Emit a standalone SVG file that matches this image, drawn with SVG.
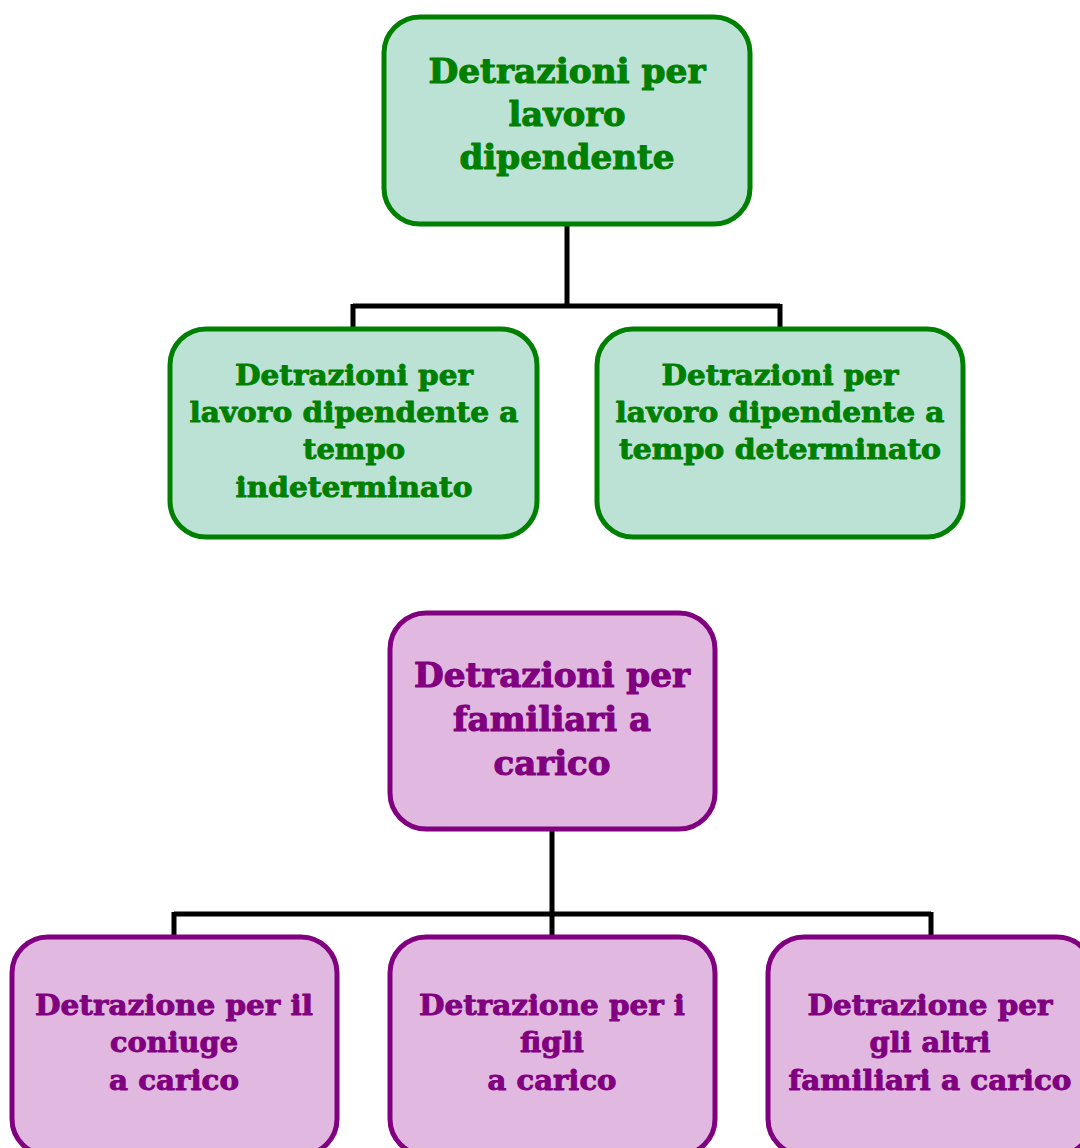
<svg xmlns="http://www.w3.org/2000/svg" width="1080" height="1148" viewBox="0 0 1080 1148">
<style>
.g rect{fill:#bce2d6;stroke:#008000;stroke-width:5}
.p rect{fill:#e1b8df;stroke:#800080;stroke-width:5}
text{font-family:"DejaVu Serif","Liberation Serif",serif;font-weight:bold;text-anchor:middle;stroke-linejoin:round}
.g text{fill:#008000;stroke:#008000}
.p text{fill:#800080;stroke:#800080}
.big{font-size:33px;stroke-width:1.1px}
.sm{font-size:27px;stroke-width:0.9px}
#connectors path{fill:none;stroke:#000;stroke-width:5}
</style>
<rect width="1080" height="1148" fill="#fff"/>
<g id="connectors">
<path d="M567,224 V306 M353,306 H780 M353,304 V329 M780,304 V329"/>
<path d="M552,829 V914 M174,914 H931 M174,912 V937 M552,912 V937 M931,912 V937"/>
</g>
<g id="n1" class="g">
<rect x="384" y="17" width="366" height="207" rx="36"/>
<text class="big" x="567" y="83" textLength="277" lengthAdjust="spacingAndGlyphs">Detrazioni per</text>
<text class="big" x="567" y="126" textLength="117" lengthAdjust="spacingAndGlyphs">lavoro</text>
<text class="big" x="567" y="169" textLength="215" lengthAdjust="spacingAndGlyphs">dipendente</text>
</g>
<g id="n2" class="g">
<rect x="170" y="329" width="367" height="208" rx="36"/>
<text class="sm" x="354" y="385" textLength="238" lengthAdjust="spacingAndGlyphs">Detrazioni per</text>
<text class="sm" x="354" y="422" textLength="329" lengthAdjust="spacingAndGlyphs">lavoro dipendente a</text>
<text class="sm" x="354" y="459" textLength="102" lengthAdjust="spacingAndGlyphs">tempo</text>
<text class="sm" x="354" y="497" textLength="237" lengthAdjust="spacingAndGlyphs">indeterminato</text>
</g>
<g id="n3" class="g">
<rect x="597" y="329" width="366" height="208" rx="36"/>
<text class="sm" x="780" y="385" textLength="237" lengthAdjust="spacingAndGlyphs">Detrazioni per</text>
<text class="sm" x="780" y="422" textLength="329" lengthAdjust="spacingAndGlyphs">lavoro dipendente a</text>
<text class="sm" x="780" y="459" textLength="322" lengthAdjust="spacingAndGlyphs">tempo determinato</text>
</g>
<g id="n4" class="p">
<rect x="390" y="613" width="325" height="216" rx="36"/>
<text class="big" x="552" y="687" textLength="276" lengthAdjust="spacingAndGlyphs">Detrazioni per</text>
<text class="big" x="552" y="731" textLength="198" lengthAdjust="spacingAndGlyphs">familiari a</text>
<text class="big" x="552" y="775" textLength="117" lengthAdjust="spacingAndGlyphs">carico</text>
</g>
<g id="n5" class="p">
<rect x="12" y="937" width="325" height="218" rx="36"/>
<text class="sm" x="174" y="1015" textLength="278" lengthAdjust="spacingAndGlyphs">Detrazione per il</text>
<text class="sm" x="174" y="1052" textLength="128" lengthAdjust="spacingAndGlyphs">coniuge</text>
<text class="sm" x="174" y="1090" textLength="130" lengthAdjust="spacingAndGlyphs">a carico</text>
</g>
<g id="n6" class="p">
<rect x="390" y="937" width="325" height="218" rx="36"/>
<text class="sm" x="552" y="1015" textLength="266" lengthAdjust="spacingAndGlyphs">Detrazione per i</text>
<text class="sm" x="552" y="1052" textLength="64" lengthAdjust="spacingAndGlyphs">figli</text>
<text class="sm" x="552" y="1090" textLength="129" lengthAdjust="spacingAndGlyphs">a carico</text>
</g>
<g id="n7" class="p">
<rect x="768" y="937" width="325" height="218" rx="36"/>
<text class="sm" x="930" y="1015" textLength="245" lengthAdjust="spacingAndGlyphs">Detrazione per</text>
<text class="sm" x="930" y="1052" textLength="121" lengthAdjust="spacingAndGlyphs">gli altri</text>
<text class="sm" x="930" y="1090" textLength="283" lengthAdjust="spacingAndGlyphs">familiari a carico</text>
</g>
</svg>
